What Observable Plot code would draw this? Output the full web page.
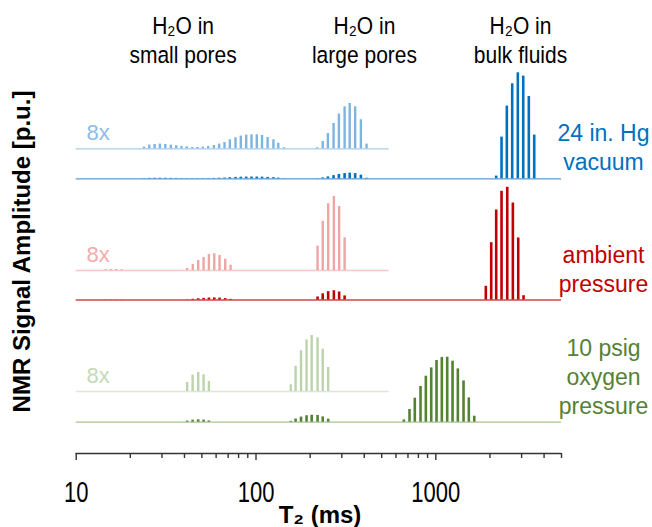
<!DOCTYPE html>
<html>
<head>
<meta charset="utf-8">
<script src="https://cdn.jsdelivr.net/npm/d3@7"></script>
<script src="https://cdn.jsdelivr.net/npm/@observablehq/plot@0.6"></script>
<style>
  body { margin: 0; background: #fff; }
</style>
</head>
<body>
<div id="chart"></div>
<script>
// ---- data (T2 in ms, amplitude in p.u.) ----
const conditionLabels = ["24 in. Hg\nvacuum", "ambient\npressure", "10 psig\noxygen\npressure"];

const vacuumT2 = [23.8, 25.5, 27.3, 29.2, 31.3, 33.6, 36.0, 38.5, 41.2, 44.2, 47.3, 50.6, 54.2, 58.3, 62.4, 66.8, 71.5, 76.9, 82.3, 88.2, 94.4, 101, 108, 116, 125, 133, 143,
  219, 235, 251, 270, 289, 311, 332, 356, 383, 412,
  2167, 2320, 2483, 2660, 2858, 3063, 3290, 3526];
const vacuumAmp = [0.021, 0.046, 0.054, 0.059, 0.054, 0.046, 0.038, 0.029, 0.025, 0.016, 0.016, 0.021, 0.029, 0.041, 0.059, 0.079, 0.113, 0.138, 0.159, 0.171, 0.175, 0.175, 0.166, 0.141, 0.113, 0.069, 0.013,
  0.013, 0.091, 0.191, 0.316, 0.434, 0.525, 0.566, 0.525, 0.363, 0.059,
  0.27, 4.17, 7.27, 9.5, 10.6, 10.27, 8.23, 4.37];

const ambientT2 = [14.6, 15.6, 16.7, 17.9,
  41.4, 44.5, 47.7, 51.1, 54.7, 58.6, 62.7, 67.4, 72.2,
  220, 235, 252, 271, 290, 311,
  1897, 2033, 2167, 2320, 2496, 2682, 2873, 3075];
const ambientAmp = [0.010, 0.013, 0.013, 0.010,
  0.025, 0.075, 0.125, 0.163, 0.2, 0.209, 0.188, 0.141, 0.066,
  0.304, 0.616, 0.834, 0.925, 0.8, 0.409,
  1.37, 5.73, 9.0, 10.87, 11.27, 9.7, 6.2, 0.43];

const oxygenT2 = [41.4, 44.4, 47.7, 51.1, 54.7,
  156, 166, 178, 191, 204, 220, 235, 252,
  664, 714, 764, 822, 880, 943, 1009, 1080, 1157, 1239, 1326, 1426, 1526, 1636];
const oxygenAmp = [0.113, 0.204, 0.238, 0.209, 0.125,
  0.084, 0.316, 0.509, 0.646, 0.7, 0.671, 0.529, 0.3,
  0.23, 1.27, 2.4, 3.57, 4.6, 5.43, 6.17, 6.47, 6.5, 6.1, 5.33, 4.13, 2.43, 0.6];

const regionPrefix = "H₂O in";
const regionLabels = ["small pores", "large pores", "bulk fluids"];
const regionT2 = [39.3, 401, 2958];

const xTicksMajor = [10, 100, 1000];
const xTicksMinor = [20, 30, 40, 50, 60, 70, 80, 90, 200, 300, 400, 500, 600, 700, 800, 900, 2000, 3000, 4000, 5000];

const magnification = 8;
const magnifiedMaxT2 = 550;

// ---- layout / styles ----
const panels = [
  {t2: vacuumT2, amp: vacuumAmp, label: conditionLabels[0], base: 27.47, base8: 30.47, labelY: 28.4,
   dark: "#0070C0", light: "#7DB4E2", line: "#5B9BD5", lightLine: "#A9CBEA", label8: "#8CBDE6", text: "#0070C0"},
  {t2: ambientT2, amp: ambientAmp, label: conditionLabels[1], base: 15.35, base8: 18.3, labelY: 16.15,
   dark: "#C00000", light: "#F0A4A4", line: "#D04848", lightLine: "#F6C8C8", label8: "#F2ABAB", text: "#C00000"},
  {t2: oxygenT2, amp: oxygenAmp, label: conditionLabels[2], base: 3.13, base8: 6.2, labelY: 4.0,
   dark: "#548235", light: "#BCD3AC", line: "#A9C490", lightLine: "#DCE8D2", label8: "#C5D9B7", text: "#548235"}
];

const marks = [];
for (const p of panels) {
  const rows = p.t2.map((t, i) => ({t2: t, amp: p.amp[i]}));
  const mag = rows.filter(d => d.t2 < magnifiedMaxT2);
  marks.push(
    Plot.ruleY([p.base], {x1: 10, x2: 5000, stroke: p.line, strokeWidth: 1.3}),
    Plot.ruleY([p.base8], {x1: 10, x2: magnifiedMaxT2, stroke: p.lightLine, strokeWidth: 1.3}),
    Plot.ruleX(mag, {x: "t2", y1: p.base8, y2: d => p.base8 + magnification * d.amp, stroke: p.light, strokeWidth: 2.4}),
    Plot.ruleX(rows, {x: "t2", y1: p.base, y2: d => p.base + d.amp, stroke: p.dark, strokeWidth: 2.6}),
    Plot.text([`${magnification}x`], {frameAnchor: "left", dx: 10.3, y: p.base8 + 0.9, textAnchor: "start", lineAnchor: "bottom", fill: p.label8, fontSize: 22}),
    Plot.text([p.label], {frameAnchor: "right", dx: 42, y: p.labelY, textAnchor: "middle", lineAnchor: "bottom", lineHeight: 29 / 23, fill: p.text, fontSize: 23})
  );
}

const headers = regionLabels.map((t, i) => ({text: t, t2: regionT2[i]}));

const chart = Plot.plot({
  width: 652,
  height: 527,
  marginLeft: 75.7,
  marginRight: 91,
  marginTop: 0,
  marginBottom: 74,
  x: {type: "log", domain: [10, 5000], label: null},
  y: {domain: [0, 45.3], axis: null},
  style: {fontFamily: "'Liberation Sans', Arial, sans-serif", background: "white", color: "black"},
  marks: [
    ...marks,
    Plot.ruleY([0], {stroke: "#333", strokeWidth: 1.5}),
    Plot.axisX({ticks: xTicksMinor, tickSize: 5, tickFormat: () => "", stroke: "#333", strokeWidth: 1.4, label: null}),
    Plot.axisX({ticks: xTicksMajor, tickSize: 7, tickPadding: 24, tickFormat: d => String(d), fontSize: 22, stroke: "#333", fill: "black", strokeWidth: 1.4, label: null}),
    Plot.text(headers, {x: "t2", y: 42.8, text: () => regionPrefix, lineAnchor: "middle", fontSize: 21, fill: "black"}),
    Plot.text(headers, {x: "t2", y: 39.9, text: "text", lineAnchor: "middle", fontSize: 21, fill: "black"}),
    Plot.text(["T₂ (ms)"], {x: 227, frameAnchor: "bottom", dy: 62, lineAnchor: "middle", fontWeight: "bold", fontSize: 24, fill: "black"}),
    Plot.text(["NMR Signal Amplitude [p.u.]"], {frameAnchor: "left", dx: -53.7, y: 20.2, rotate: -90, textAnchor: "middle", lineAnchor: "middle", fontWeight: "bold", fontSize: 24, fill: "black"})
  ]
});

document.getElementById("chart").appendChild(chart);

// The reference's lettering for headers and tick labels is drawn taller than wide:
// stretch those texts vertically about their own centres.
const stretchFor = new Map([
  [regionPrefix, 1.17], ...regionLabels.map(t => [t, 1.17]),
  ...xTicksMajor.map(t => [String(t), 1.3])
]);
const svgNS = "http://www.w3.org/2000/svg";
chart.querySelectorAll("text").forEach(t => {
  const s = stretchFor.get(t.textContent);
  if (!s) return;
  const g = document.createElementNS(svgNS, "g");
  t.parentNode.insertBefore(g, t);
  g.appendChild(t);
  const b = g.getBBox();
  const cy = b.y + b.height / 2;
  g.setAttribute("transform", `translate(0,${cy}) scale(1,${s}) translate(0,${-cy})`);
});
</script>
</body>
</html>
